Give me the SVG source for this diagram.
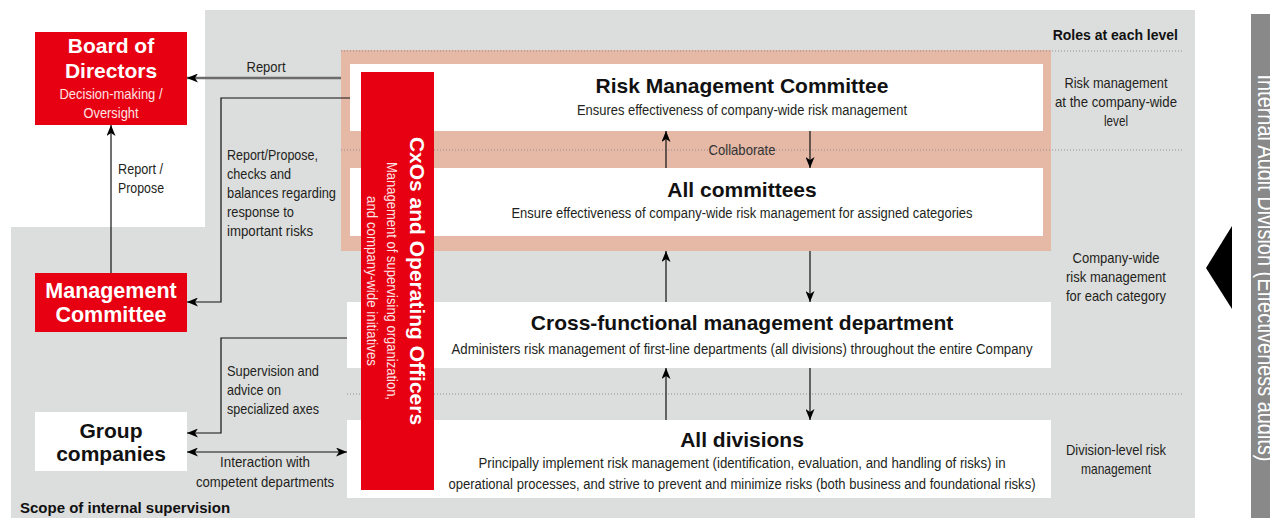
<svg xmlns="http://www.w3.org/2000/svg" width="1270" height="518" viewBox="0 0 1270 518">
  <style>
    .bold { font-family: "Liberation Sans", Arial, sans-serif; font-weight: bold; }
    .cond { font-family: "Liberation Sans Narrow", "Liberation Sans", Arial, sans-serif; }
    .title { font-size: 21px; fill: #111; }
    .sub { font-size: 15.5px; fill: #231f20; }
    .lbl { font-size: 15px; fill: #231f20; }
    .redtitle { font-size: 21px; fill: #fff; }
    .redsub { font-size: 15px; fill: #fde3e3; }
    .mid { text-anchor: middle; }
    .wire { fill: none; stroke: #111; stroke-width: 1.2; }
    .dots { stroke: #8f8f8f; stroke-width: 1; stroke-dasharray: 1 2; }
  </style>
  <defs>
    <marker id="ah" viewBox="0 0 11 9" refX="11" refY="4.5" markerWidth="11" markerHeight="9" markerUnits="userSpaceOnUse" orient="auto-start-reverse">
      <path d="M0,0 L11,4.5 L0,9 L3,4.5 Z" fill="#000"/>
    </marker>
  </defs>

  <rect width="1270" height="518" fill="#fff"/>

  <!-- scope of internal supervision -->
  <path d="M205,10 H1195 V518 H11 V227 H205 Z" fill="#dcdddd"/>

  <!-- committee band -->
  <rect x="341" y="50" width="710" height="201" fill="#e5b9a6"/>

  <!-- level separators -->
  <g id="separators">
    <line class="dots" x1="341" y1="51" x2="1183" y2="51"/>
    <line class="dots" x1="341" y1="150" x2="1183" y2="150"/>
    <line class="dots" x1="347" y1="394" x2="1183" y2="394"/>
  </g>

  <g id="risk-management-committee">
    <rect x="350" y="64" width="693" height="67" fill="#fff"/>
    <text class="bold title mid" x="742" y="93">Risk Management Committee</text>
    <text class="cond sub mid" x="742" y="115" textLength="330" lengthAdjust="spacingAndGlyphs">Ensures effectiveness of company-wide risk management</text>
  </g>

  <g id="all-committees">
    <rect x="350" y="168" width="693" height="68" fill="#fff"/>
    <text class="bold title mid" x="742" y="197">All committees</text>
    <text class="cond sub mid" x="742" y="218" textLength="461" lengthAdjust="spacingAndGlyphs">Ensure effectiveness of company-wide risk management for assigned categories</text>
  </g>

  <g id="cross-functional">
    <rect x="347" y="302" width="704" height="66" fill="#fff"/>
    <text class="bold title mid" x="742" y="330">Cross-functional management department</text>
    <text class="cond sub mid" x="742" y="354" textLength="581" lengthAdjust="spacingAndGlyphs">Administers risk management of first-line departments (all divisions) throughout the entire Company</text>
  </g>

  <g id="all-divisions">
    <rect x="347" y="420" width="704" height="78" fill="#fff"/>
    <text class="bold title mid" x="742" y="447">All divisions</text>
    <text class="cond sub mid" x="742" y="468" textLength="527" lengthAdjust="spacingAndGlyphs">Principally implement risk management (identification, evaluation, and handling of risks) in</text>
    <text class="cond sub mid" x="742" y="489" textLength="587" lengthAdjust="spacingAndGlyphs">operational processes, and strive to prevent and minimize risks (both business and foundational risks)</text>
  </g>

  <g id="cxos">
    <rect x="361" y="72" width="73" height="418" fill="#e60012"/>
    <g transform="translate(417,281) rotate(90)">
      <text class="bold redtitle mid" x="0" y="7">CxOs and Operating Officers</text>
      <text class="cond redsub mid" x="0" y="30" textLength="238" lengthAdjust="spacingAndGlyphs">Management of supervising organization,</text>
      <text class="cond redsub mid" x="0" y="50" textLength="170" lengthAdjust="spacingAndGlyphs">and company-wide initiatives</text>
    </g>
  </g>

  <g id="board-of-directors">
    <rect x="35" y="32" width="152" height="93" fill="#e60012"/>
    <text class="bold redtitle mid" x="111" y="53">Board of</text>
    <text class="bold redtitle mid" x="111" y="78">Directors</text>
    <text class="cond redsub mid" x="111" y="99" textLength="103" lengthAdjust="spacingAndGlyphs">Decision-making /</text>
    <text class="cond redsub mid" x="111" y="118" textLength="55" lengthAdjust="spacingAndGlyphs">Oversight</text>
  </g>

  <g id="management-committee">
    <rect x="35" y="273" width="152" height="59" fill="#e60012"/>
    <text class="bold mid" x="111" y="298" font-size="21.5" fill="#fff">Management</text>
    <text class="bold mid" x="111" y="322" font-size="21.5" fill="#fff">Committee</text>
  </g>

  <g id="group-companies">
    <rect x="35" y="412" width="152" height="59" fill="#fff"/>
    <text class="bold mid" x="111" y="438" font-size="21" fill="#111">Group</text>
    <text class="bold mid" x="111" y="461" font-size="21" fill="#111">companies</text>
  </g>

  <g id="roles">
    <text class="bold" x="1178" y="40" font-size="14" fill="#111" text-anchor="end">Roles at each level</text>
    <text class="cond lbl mid" x="1116" y="88" textLength="103" lengthAdjust="spacingAndGlyphs">Risk management</text>
    <text class="cond lbl mid" x="1116" y="107" textLength="122" lengthAdjust="spacingAndGlyphs">at the company-wide</text>
    <text class="cond lbl mid" x="1116" y="126" textLength="24" lengthAdjust="spacingAndGlyphs">level</text>
    <text class="cond lbl mid" x="1116" y="263" textLength="87" lengthAdjust="spacingAndGlyphs">Company-wide</text>
    <text class="cond lbl mid" x="1116" y="282" textLength="100" lengthAdjust="spacingAndGlyphs">risk management</text>
    <text class="cond lbl mid" x="1116" y="301" textLength="100" lengthAdjust="spacingAndGlyphs">for each category</text>
    <text class="cond lbl mid" x="1116" y="455" textLength="100" lengthAdjust="spacingAndGlyphs">Division-level risk</text>
    <text class="cond lbl mid" x="1116" y="474" textLength="70" lengthAdjust="spacingAndGlyphs">management</text>
  </g>

  <g id="internal-audit">
    <rect x="1251" y="14" width="19" height="504" fill="#898989"/>
    <path d="M1206,268 L1232,226 L1232,309 Z" fill="#000"/>
    <text class="cond" transform="translate(1258,268) rotate(90)" x="0" y="0" font-size="23" fill="#fff" text-anchor="middle" textLength="387" lengthAdjust="spacingAndGlyphs">Internal Audit Division (Effectiveness audits)</text>
  </g>

  <text class="bold" x="20" y="513" font-size="15" fill="#111">Scope of internal supervision</text>

  <g id="connectors">
    <line x1="341" y1="78" x2="187" y2="78" stroke="#6b6b6b" stroke-width="2.5" marker-end="url(#ah)"/>
    <line class="wire" x1="111" y1="273" x2="111" y2="125" marker-end="url(#ah)"/>
    <polyline class="wire" points="350,98 221,98 221,302 187,302" marker-end="url(#ah)"/>
    <polyline class="wire" points="347,338 221,338 221,433 187,433" marker-end="url(#ah)"/>
    <line class="wire" x1="187" y1="452" x2="347" y2="452" marker-start="url(#ah)" marker-end="url(#ah)"/>
    <line class="wire" x1="666" y1="168" x2="666" y2="131" marker-end="url(#ah)"/>
    <line class="wire" x1="810" y1="131" x2="810" y2="168" marker-end="url(#ah)"/>
    <line class="wire" x1="666" y1="302" x2="666" y2="251" marker-end="url(#ah)"/>
    <line class="wire" x1="810" y1="251" x2="810" y2="302" marker-end="url(#ah)"/>
    <line class="wire" x1="666" y1="420" x2="666" y2="368" marker-end="url(#ah)"/>
    <line class="wire" x1="810" y1="368" x2="810" y2="420" marker-end="url(#ah)"/>
  </g>

  <g id="labels">
    <text class="cond lbl mid" x="266" y="72" textLength="39" lengthAdjust="spacingAndGlyphs">Report</text>
    <text class="cond lbl" x="118" y="174" textLength="45" lengthAdjust="spacingAndGlyphs">Report /</text>
    <text class="cond lbl" x="118" y="193" textLength="46" lengthAdjust="spacingAndGlyphs">Propose</text>
    <text class="cond lbl" x="227" y="160" textLength="91" lengthAdjust="spacingAndGlyphs">Report/Propose,</text>
    <text class="cond lbl" x="227" y="179" textLength="64" lengthAdjust="spacingAndGlyphs">checks and</text>
    <text class="cond lbl" x="227" y="198" textLength="109" lengthAdjust="spacingAndGlyphs">balances regarding</text>
    <text class="cond lbl" x="227" y="217" textLength="67" lengthAdjust="spacingAndGlyphs">response to</text>
    <text class="cond lbl" x="227" y="236" textLength="86" lengthAdjust="spacingAndGlyphs">important risks</text>
    <text class="cond lbl" x="227" y="376" textLength="92" lengthAdjust="spacingAndGlyphs">Supervision and</text>
    <text class="cond lbl" x="227" y="395" textLength="54" lengthAdjust="spacingAndGlyphs">advice on</text>
    <text class="cond lbl" x="227" y="414" textLength="92" lengthAdjust="spacingAndGlyphs">specialized axes</text>
    <text class="cond lbl mid" x="265" y="467" textLength="90" lengthAdjust="spacingAndGlyphs">Interaction with</text>
    <text class="cond lbl mid" x="265" y="487" textLength="138" lengthAdjust="spacingAndGlyphs">competent departments</text>
    <text class="cond mid" x="742" y="155" font-size="14.5" fill="#333" textLength="67" lengthAdjust="spacingAndGlyphs">Collaborate</text>
  </g>
</svg>
